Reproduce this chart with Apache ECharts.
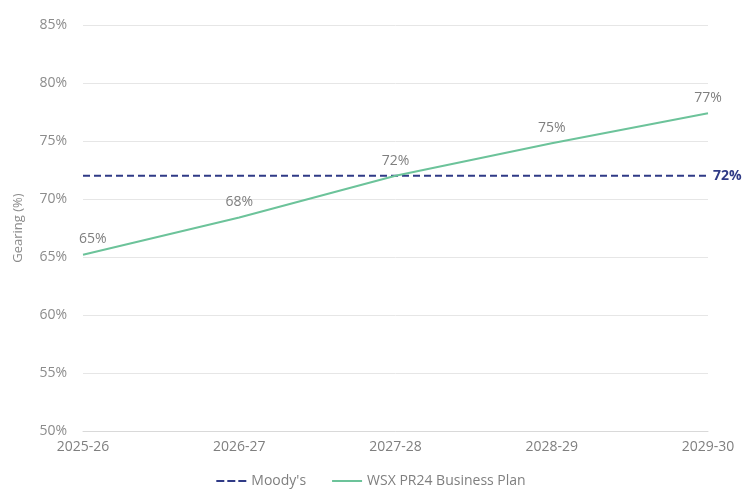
<!DOCTYPE html>
<html><head><meta charset="utf-8">
<script src="https://cdn.jsdelivr.net/npm/echarts@6/dist/echarts.min.js"></script>
<style>html,body{margin:0;padding:0;background:#fff}#c{width:742px;height:492px}</style>
</head><body><div id="c"></div>
<script>
const categories = ["2025-26","2026-27","2027-28","2028-29","2029-30"];
const planValues = [65.2, 68.4, 72.0, 74.8, 77.4];
const planLabels = ["65%","68%","72%","75%","77%"];
const moodysValues = [72, 72, 72, 72, 72];
const moodysLabel = "72%";

const chart = echarts.init(document.getElementById('c'));
const font = "Open Sans, sans-serif";
chart.setOption({
  animation: false,
  grid: {left: 83, right: 34, top: 25, bottom: 61},
  legend: {
    bottom: -1, left: 'center', itemWidth: 30, itemHeight: 10, itemGap: 26,
    textStyle: {color: '#7f7f7f', fontSize: 14, fontFamily: font},
    data: [
      {name: "Moody's", icon: 'path://M0,4 L8,4 L8,6 L0,6 Z M11,4 L19,4 L19,6 L11,6 Z M22,4 L30,4 L30,6 L22,6 Z', itemStyle:{color:'#2f3a86'}},
      {name: 'WSX PR24 Business Plan', icon: 'path://M0,4 L30,4 L30,6 L0,6 Z', itemStyle:{color:'#6cc39a'}}
    ]
  },
  xAxis: {
    type: 'category', data: categories, boundaryGap: false,
    axisLine: {lineStyle: {color: '#d9d9d9'}},
    axisTick: {show: false},
    axisLabel: {color: '#7f7f7f', fontSize: 14, fontFamily: font, margin: 9}
  },
  yAxis: {
    type: 'value', min: 50, max: 85, interval: 5,
    name: 'Gearing (%)', nameLocation: 'middle', nameGap: 58, nameRotate: 90,
    nameTextStyle: {color: '#8c8c8c', fontSize: 13, fontFamily: font},
    axisLine: {show: false}, axisTick: {show: false},
    axisLabel: {color: '#8c8c8c', fontSize: 14, fontFamily: font, formatter: v => v + '%', margin: 16},
    splitLine: {lineStyle: {color: '#e6e6e6'}}
  },
  series: [
    {
      name: "Moody's", type: 'line', data: moodysValues, symbol: 'none',
      lineStyle: {color: '#2f3a86', width: 2, type: [7, 4]},
      itemStyle: {color: '#2f3a86'},
      endLabel: {show: true, formatter: () => moodysLabel, color: '#2f3a86', fontWeight: 'bold', fontSize: 14, fontFamily: font, distance: 5},
      z: 3
    },
    {
      name: 'WSX PR24 Business Plan', type: 'line', symbol: 'circle', symbolSize: 0.1, showSymbol: true,
      data: planValues.map((v, i) => i === 0 ? {value: v, label: {position: [-4, -9], align: 'left', verticalAlign: 'bottom'}} : v),
      lineStyle: {color: '#6cc39a', width: 2},
      itemStyle: {color: '#6cc39a'},
      label: {show: true, position: 'top', distance: 8, color: '#7f7f7f', fontSize: 14, fontFamily: font,
        formatter: p => planLabels[p.dataIndex]},
      labelLayout: {hideOverlap: false},
      z: 4
    }
  ]
});
</script></body></html>
